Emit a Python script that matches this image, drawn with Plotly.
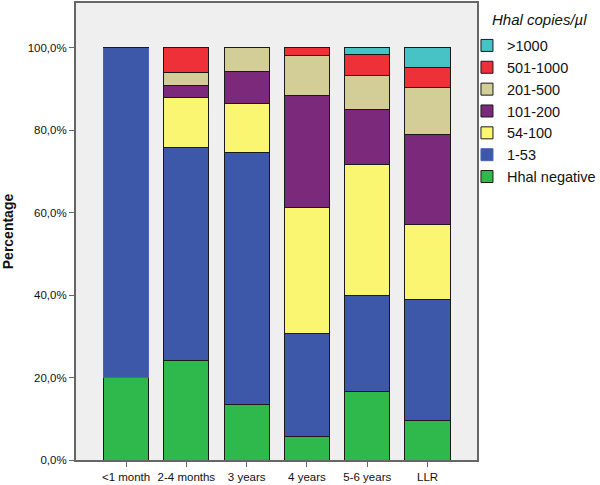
import plotly.graph_objects as go

categories = ["<1 month", "2-4 months", "3 years", "4 years", "5-6 years", "LLR"]

series_names = ["Hhal negative", "1-53", "54-100", "101-200", "201-500", "501-1000", ">1000"]
hhal_negative = [20.0, 24.2, 13.5, 5.7, 16.7, 9.5]
c1_53 = [80.0, 51.5, 61.1, 25.0, 23.3, 29.5]
c54_100 = [0.0, 12.1, 11.8, 30.6, 31.7, 18.1]
c101_200 = [0.0, 3.0, 7.7, 27.1, 13.3, 21.9]
c201_500 = [0.0, 3.1, 5.9, 9.7, 8.3, 11.3]
c501_1000 = [0.0, 6.1, 0.0, 1.9, 5.0, 4.9]
c_gt1000 = [0.0, 0.0, 0.0, 0.0, 1.7, 4.8]

series_values = [hhal_negative, c1_53, c54_100, c101_200, c201_500, c501_1000, c_gt1000]
colors = ["#2fb84b", "#3d58a9", "#faf672", "#7b2a7b", "#d3cd98", "#ee3039", "#47c3c6"]

y_tickvals = [0, 20, 40, 60, 80, 100]
y_ticktext = ["0,0%", "20,0%", "40,0%", "60,0%", "80,0%", "100,0%"]

legend_title = "Hhal copies/µl"

fig = go.Figure()
for name, vals, col in zip(series_names, series_values, colors):
    if name == "1-53":
        line_cols = ["#4a64b0"] + ["#1a1a1a"] * (len(vals) - 1)
    else:
        line_cols = ["#1a1a1a"] * len(vals)
    fig.add_trace(go.Bar(
        x=categories, y=vals, name=name,
        marker=dict(color=col, line=dict(color=line_cols, width=1)),
        width=0.75,
    ))

fig.update_layout(
    barmode="stack",
    width=600, height=485,
    margin=dict(l=76, r=123, t=3, b=25, autoexpand=False),
    paper_bgcolor="white",
    plot_bgcolor="#efefef",
    font=dict(family="Arial, Liberation Sans, sans-serif", color="#111"),
    showlegend=True,
    legend=dict(
        x=0.975, xanchor="left", y=0.942, yanchor="top",
        traceorder="reversed",
        font=dict(size=14.5, color="#111"),
        tracegroupgap=0,
        bgcolor="rgba(0,0,0,0)",
    ),
    annotations=[dict(
        text="<i>" + legend_title + "</i>", xref="paper", yref="paper",
        x=1.032, y=0.963, xanchor="left", yanchor="middle",
        showarrow=False, font=dict(size=15, color="#111"),
    )],
    xaxis=dict(
        range=[-0.83, 5.82],
        showline=True, linecolor="#666", linewidth=2, mirror=True,
        ticks="outside", ticklen=5, tickcolor="#666",
        tickfont=dict(size=11.5, color="#111"),
        showgrid=False,
    ),
    yaxis=dict(
        range=[0, 110.8],
        tickvals=y_tickvals, ticktext=y_ticktext,
        showline=True, linecolor="#666", linewidth=2, mirror=True,
        ticks="outside", ticklen=5, tickcolor="#666",
        tickfont=dict(size=11.5, color="#111"),
        showgrid=False, zeroline=False,
        title=dict(text="<b>Percentage</b>", font=dict(size=14, color="#111"), standoff=12),
    ),
)

fig.write_html(
    "out.html",
    config={"displayModeBar": False},
    post_script="document.body.style.margin='0';document.body.style.padding='0';",
)
